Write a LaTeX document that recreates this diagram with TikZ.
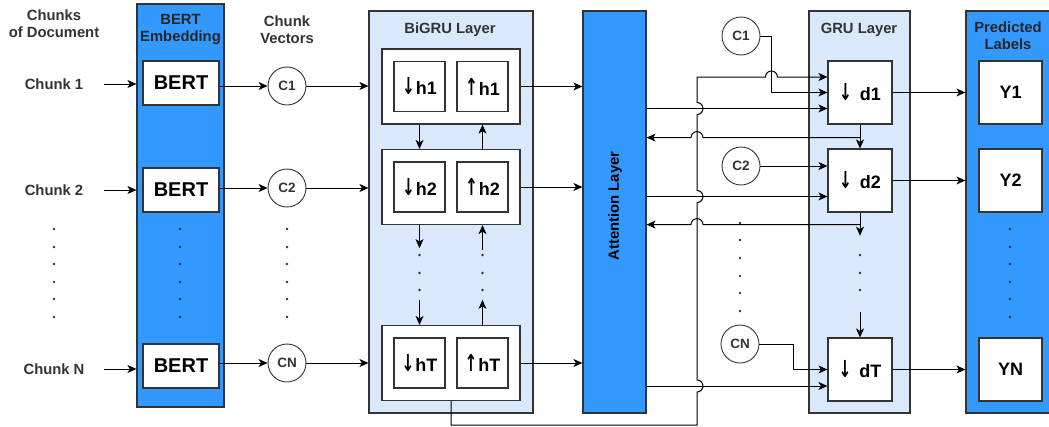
\documentclass[tikz,border=0pt]{standalone}
\usepackage{fontspec}
\usepackage{graphicx}
\setmainfont{Liberation Sans}
\newfontfamily\arrfont{DejaVu Sans}
\newcommand\dirarrow[1]{\scalebox{0.85}[1.3]{\arrfont\bfseries #1}\kern1pt}
\usetikzlibrary{arrows.meta,calc}
\definecolor{colblue}{HTML}{3399FF}
\definecolor{laybg}{HTML}{DAE8FC}
\definecolor{ink}{HTML}{333333}
\tikzset{
  lbl/.style={font=\bfseries\fontsize{14.8}{17}\selectfont, text=ink, align=center, inner sep=0pt},
  coltitle/.style={lbl, text=black!85},
  bandcol/.style={draw=ink, line width=1.2pt, fill=colblue, inner sep=0pt},
  layerbox/.style={draw=ink, line width=1.2pt, fill=laybg, inner sep=0pt},
  cell/.style={draw=ink, line width=1.2pt, fill=white, inner sep=0pt, text=black},
  bigtxt/.style={font=\bfseries\fontsize{20}{20}\selectfont},
  midtxt/.style={font=\bfseries\fontsize{18}{18}\selectfont},
  vecnode/.style={draw=ink, circle, line width=0.9pt, fill=white, minimum size=38pt, inner sep=0pt,
    font=\bfseries\fontsize{13.5}{13.5}\selectfont, text=ink},
  conn/.style={draw=black, line width=1pt, -{Stealth[length=9pt,width=8pt,inset=2.5pt]}},
  dotmark/.style={fill=ink, circle, inner sep=0pt, minimum size=2.6pt},
}
\begin{document}
\begin{tikzpicture}[x=1pt,y=1pt]
\clip (0,0) rectangle (1049,-426);
\fill[white] (0,0) rectangle (1049,-426);

% ---- columns and layer frames ----
\node[bandcol, minimum width=87pt, minimum height=403pt] (bertcol) at (180.5,-205.5) {};
\node[layerbox, minimum width=164pt, minimum height=402pt] (bigru) at (451,-212) {};
\node[bandcol, minimum width=63pt, minimum height=402pt] (att) at (614.5,-212) {};
\node[layerbox, minimum width=101pt, minimum height=402pt] (gru) at (859.5,-212) {};
\node[bandcol, minimum width=86pt, minimum height=402pt] (pred) at (1009,-212) {};

% ---- titles ----
\node[lbl] (doctitle) at (54,-23.5) {Chunks\\of Document};
\node[coltitle] (berttitle) at (180.5,-29.5) {BERT\\Embedding};
\node[lbl] (vectitle) at (287,-29.5) {Chunk\\Vectors};
\node[lbl] (bigrutitle) at (450,-30) {BiGRU Layer};
\node[lbl] (grutitle) at (859,-30) {GRU Layer};
\node[coltitle] (predtitle) at (1008,-36) {Predicted\\Labels};
\node[coltitle, rotate=90, text=black] (atttitle) at (615,-206) {Attention Layer};

% ---- document chunks ----
\node[lbl] (ch1) at (54,-84) {Chunk 1};
\node[lbl] (ch2) at (54,-190) {Chunk 2};
\node[lbl] (chN) at (54,-369) {Chunk N};

% ---- BERT encoders ----
\node[cell, bigtxt, minimum width=76pt, minimum height=44pt] (b1) at (181,-83) {BERT};
\node[cell, bigtxt, minimum width=76pt, minimum height=44pt] (b2) at (181,-190) {BERT};
\node[cell, bigtxt, minimum width=76pt, minimum height=44pt] (bN) at (181,-366) {BERT};

\foreach \ch in {ch1,ch2,chN}
  \draw[conn] ($(bertcol.west |- \ch)+(-32,0)$) -- (bertcol.west |- \ch);

% ---- chunk vectors ----
\node[vecnode] (c1) at (287,-86) {C1};
\node[vecnode] (c2) at (287,-188) {C2};
\node[vecnode] (cN) at (287,-363) {CN};

\draw[conn] (b1.east |- c1) -- (c1);
\draw[conn] (b2.east |- c2) -- (c2);
\draw[conn] (bN.east |- cN) -- (cN);

% vertical ellipses
\foreach \y [count=\k] in {229,247,264,282,299,317} {
  \node[dotmark] (da\k) at (54,-\y) {};
  \node[dotmark] (db\k) at (180,-\y) {};
  \node[dotmark] (dc\k) at (287,-\y) {};
  \node[dotmark] (dy\k) at (1010,-\y) {};
}
\foreach \y [count=\k] in {223,240,258,276,293,311}
  \node[dotmark] (de\k) at (740,-\y) {};
\foreach \y [count=\k] in {255,273,290} {
  \node[dotmark] (dh\k) at (419.5,-\y) {};
  \node[dotmark] (du\k) at (482.5,-\y) {};
  \node[dotmark] (dd\k) at (860,-\y) {};
}

% ---- BiGRU cells ----
\node[cell, minimum width=138pt, minimum height=75pt] (g1) at (451,-86.5) {};
\node[cell, minimum width=138pt, minimum height=75pt] (g2) at (451,-187) {};
\node[cell, minimum width=138pt, minimum height=75pt] (gT) at (451,-363) {};
\node[cell, midtxt, minimum width=51pt, minimum height=50pt] (hd1) at (419.5,-86.5) {\dirarrow{↓}h1};
\node[cell, midtxt, minimum width=51pt, minimum height=50pt] (hu1) at (482.5,-86.5) {\dirarrow{↑}h1};
\node[cell, midtxt, minimum width=51pt, minimum height=50pt] (hd2) at (419.5,-187) {\dirarrow{↓}h2};
\node[cell, midtxt, minimum width=51pt, minimum height=50pt] (hu2) at (482.5,-187) {\dirarrow{↑}h2};
\node[cell, midtxt, minimum width=51pt, minimum height=50pt] (hdT) at (419.5,-363) {\dirarrow{↓}hT};
\node[cell, midtxt, minimum width=51pt, minimum height=50pt] (huT) at (482.5,-363) {\dirarrow{↑}hT};

\draw[conn] (c1) -- (c1 -| bigru.west);
\draw[conn] (c2) -- (c2 -| bigru.west);
\draw[conn] (cN) -- (cN -| bigru.west);

\draw[conn] (g1.south -| hd1) -- (g2.north -| hd1);
\draw[conn] (g2.north -| hu2) -- (g1.south -| hu2);
\draw[conn] (g2.south -| hd2) -- ++(0,-23);
\draw[conn] ($(gT.north -| hdT)+(0,25)$) -- (gT.north -| hdT);
\draw[conn] (gT.north -| huT) -- ++(0,25);
\draw[conn] ($(g2.south -| hu2)+(0,-25)$) -- (g2.south -| hu2);

\draw[conn] (g1.east) -- (g1.east -| att.west);
\draw[conn] (g2.east) -- (g2.east -| att.west);
\draw[conn] (gT.east) -- (gT.east -| att.west);

% ---- GRU decoder cells ----
\node[cell, midtxt, minimum width=64pt, minimum height=63pt] (d1) at (860,-92.5) {\dirarrow{↓}\kern2pt\ d1};
\node[cell, midtxt, minimum width=64pt, minimum height=63pt] (d2) at (860,-180.5) {\dirarrow{↓}\kern2pt\ d2};
\node[cell, midtxt, minimum width=64pt, minimum height=63pt] (dT) at (860,-369.5) {\dirarrow{↓}\kern2pt\ dT};

% ---- predicted labels ----
\node[cell, midtxt, minimum width=63pt, minimum height=63pt] (y1) at (1010.5,-92.5) {Y1};
\node[cell, midtxt, minimum width=63pt, minimum height=63pt] (y2) at (1010.5,-180.5) {Y2};
\node[cell, midtxt, minimum width=63pt, minimum height=63pt] (yN) at (1010.5,-369.5) {YN};

\draw[conn] (d1.east) -- (d1.east -| pred.west);
\draw[conn] (d2.east) -- (d2.east -| pred.west);
\draw[conn] (dT.east) -- (dT.east -| pred.west);

% ---- chunk vectors fed to the decoder ----
\node[vecnode] (e1) at (741,-36) {C1};
\node[vecnode] (e2) at (741,-166) {C2};
\node[vecnode] (eN) at (740,-344) {CN};

\coordinate (busx) at (697,0);
\coordinate (d1bus) at ($(d1.west)+(0,15.5)$);
\coordinate (d1att) at ($(d1.west)+(0,-16)$);
\coordinate (d2att) at ($(d2.west)+(0,-16)$);
\coordinate (dTatt) at ($(dT.west)+(0,-16.5)$);
\coordinate (e1turn) at ([xshift=-56pt]d1.west);
\coordinate (eNturn) at ([xshift=-34pt]dT.west);
\coordinate (fb1) at ($(d1.south)+(0,-13)$);
\coordinate (fb2) at ($(d2.south)+(0,-12)$);
\coordinate (busfoot) at ($(gT.south)+(0,-24)$);

\draw[conn] (e1) -| (e1turn) -- (d1.west);
\draw[conn] (e2) -- (e2 -| d2.west);
\draw[conn] (eN) -| (eNturn) -- (dT.west);

% attention context into the decoder
\draw[conn] (att.east |- d1att) -- (d1att);
\draw[conn] (att.east |- d2att) -- (d2att);
\draw[conn] (att.east |- dTatt) -- (dTatt);

% last encoder state initialises the decoder
\draw[conn] (gT.south) -- (busfoot) -- (busfoot -| busx)
  -- ($(busx |- dTatt)+(0,-6)$) arc[start angle=-90,end angle=90,radius=6]
  -- ($(busx |- d2att)+(0,-6)$) arc[start angle=-90,end angle=90,radius=6]
  -- ($(busx |- d1att)+(0,-6)$) arc[start angle=-90,end angle=90,radius=6]
  -- (busx |- d1bus)
  -- ($(e1turn |- d1bus)+(-6,0)$) arc[start angle=180,end angle=0,radius=6]
  -- (d1bus);

% decoder states: next step and back to attention
\draw[conn] (d1.south) -- (d2.north);
\draw[conn] (fb1) -- ($(busx |- fb1)+(6,0)$) arc[start angle=0,end angle=180,radius=6] -- (att.east |- fb1);
\draw[conn] (d2.south) -- ++(0,-23);
\draw[conn] (fb2) -- ($(busx |- fb2)+(6,0)$) arc[start angle=0,end angle=180,radius=6] -- (att.east |- fb2);
\draw[conn] ($(dT.north)+(0,25)$) -- (dT.north);
\end{tikzpicture}
\end{document}
